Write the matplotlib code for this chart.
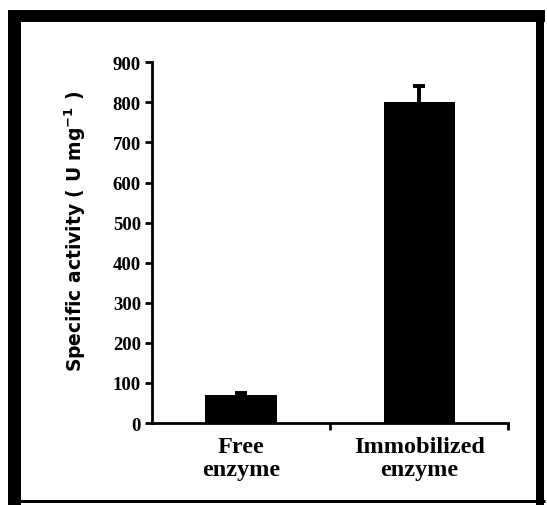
import matplotlib
matplotlib.use("Agg")
import matplotlib.pyplot as plt
from matplotlib.lines import Line2D
import numpy as np

# enzyme activity data
categories = ["Free\nenzyme", "Immobilized\nenzyme"]
activity = [70, 800]
activity_err = [5, 40]

fig = plt.figure(figsize=(5.47, 5.06), dpi=100)
ax = fig.add_axes([0.278, 0.162, 0.651, 0.713])

x = np.arange(len(categories))
ax.bar(x, activity, width=0.4, color="black", yerr=activity_err,
       error_kw=dict(ecolor="black", elinewidth=2.8, capsize=4, capthick=2.8))

ax.set_xlim(-0.5, 1.5)
ax.set_ylim(0, 900)
ax.set_yticks(np.arange(0, 901, 100))
ax.set_xticks(x)
ax.set_xticklabels(categories, fontsize=17.5, fontweight="bold",
                   family="Liberation Serif", linespacing=1.15)
ax.set_xticks([0.5, 1.5], minor=True)
ax.tick_params(axis="x", which="major", length=0, pad=9)
ax.tick_params(axis="x", which="minor", length=5, width=2, direction="out")
ax.tick_params(axis="y", length=5, width=2, direction="out", pad=3)
for lab in ax.get_yticklabels():
    lab.set_fontfamily("Liberation Serif")
    lab.set_fontweight("bold")
    lab.set_fontsize(13.5)

ax.set_ylabel("Specific activity ( U mg$^{\\mathbf{-1}}$ )", fontsize=13.5,
              fontweight="bold", family="DejaVu Sans")
ax.yaxis.set_label_coords(-0.18, 0.535)

for side in ["top", "right"]:
    ax.spines[side].set_visible(False)
for side in ["left", "bottom"]:
    ax.spines[side].set_linewidth(2)

# outer frame drawn in pixel coordinates
W, H = 547, 506
def frame_line(x0, y0, x1, y1, lw_px):
    fig.add_artist(Line2D([x0 / W, x1 / W], [1 - y0 / H, 1 - y1 / H],
                          transform=fig.transFigure, color="black",
                          linewidth=lw_px * 0.72, solid_capstyle="butt"))

frame_line(14.5, 11, 14.5, 506, 13)
frame_line(8, 17, 545, 17, 12)
frame_line(540, 11, 540, 506, 8)
frame_line(8, 502, 545, 502, 3)

fig.savefig("out.png", dpi=100)
